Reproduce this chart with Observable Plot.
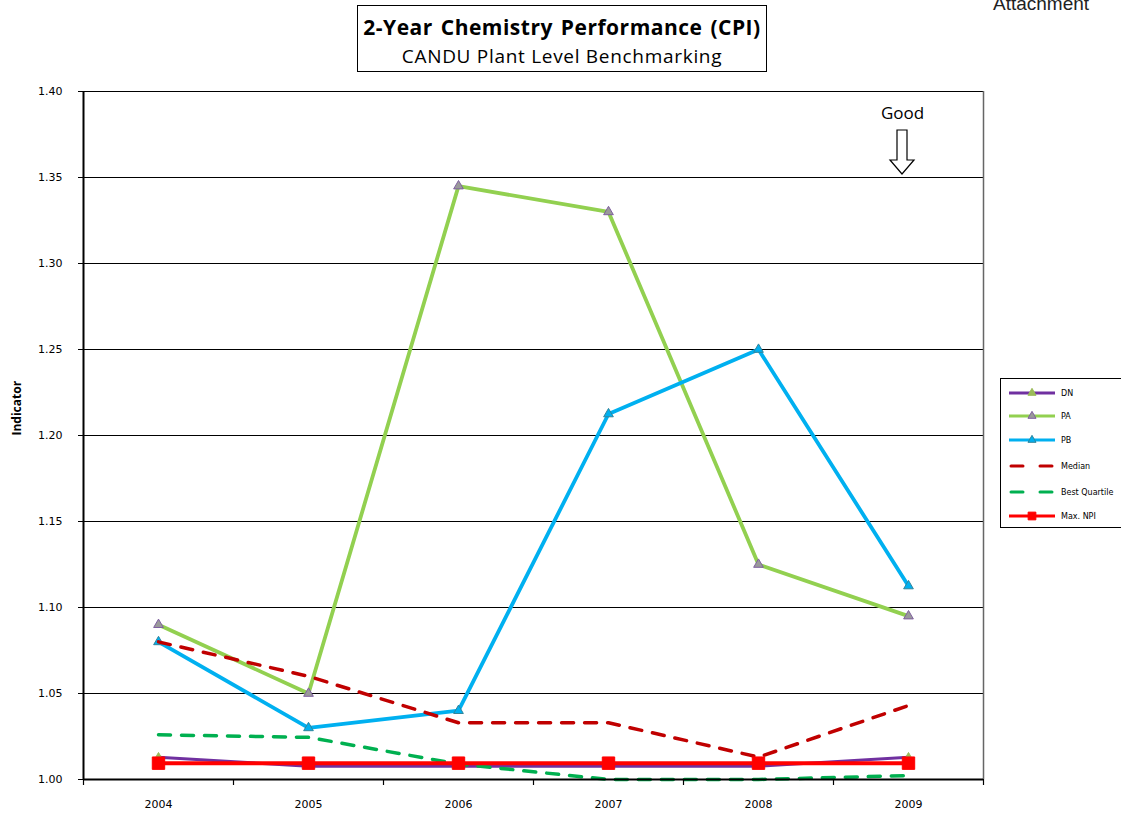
<!DOCTYPE html>
<html>
<head>
<meta charset="utf-8">
<script src="https://cdn.jsdelivr.net/npm/d3@7"></script>
<script src="https://cdn.jsdelivr.net/npm/@observablehq/plot@0.6"></script>
<style>
  html, body { margin: 0; padding: 0; background: #fff; overflow: hidden; }
  #wrap { position: relative; width: 1121px; height: 820px; overflow: hidden; }
  #chart { position: absolute; left: 0; top: 0; }
  #titlebox { position: absolute; left: 357px; top: 5px; width: 410px; height: 67px; border: 1px solid #000; background: #fff;
    text-align: center; font-family: "Open Sans", sans-serif; color: #000; box-sizing: border-box; white-space: nowrap; }
  #titlebox .t1 { font-weight: bold; font-size: 21px; line-height: 28px; margin-top: 7px; letter-spacing: 0.5px; word-spacing: 2px; }
  #titlebox .t2 { font-size: 19px; line-height: 26px; margin-top: 2px; letter-spacing: 0.7px; }
  #attach { position: absolute; left: 993px; top: -6px; font-family: "Liberation Sans", Arial, sans-serif; font-size: 19px; line-height: 20px; color: #222; }
  #legend { position: absolute; left: 1000px; top: 378px; width: 130px; height: 148px; border: 1px solid #000; background: #fff;
    font-family: "DejaVu Sans", sans-serif; font-size: 8px; color: #000; }
  #legend .item { position: absolute; left: 8px; height: 16px; display: flex; align-items: center; }
  #legend .item svg { display: block; margin-right: 4px; }
</style>
</head>
<body>
<div id="wrap">
  <div id="chart"></div>
  <div id="titlebox"><div class="t1">2-Year Chemistry Performance (CPI)</div><div class="t2">CANDU Plant Level Benchmarking</div></div>
  <div id="attach">Attachment</div>
  <div id="legend"></div>
</div>
<script>
// ---- data ----
const years = [2004, 2005, 2006, 2007, 2008, 2009];
const seriesNames = ["DN", "PA", "PB", "Median", "Best Quartile", "Max. NPI"];
const dnValues = [1.013, 1.0077, 1.0077, 1.0077, 1.0077, 1.013];
const paValues = [1.09, 1.05, 1.345, 1.33, 1.125, 1.095];
const pbValues = [1.08, 1.03, 1.04, 1.2125, 1.25, 1.1125];
const medianValues = [1.08, 1.06, 1.033, 1.033, 1.013, 1.043];
const bestQuartileValues = [1.026, 1.0245, 1.009, 1.0, 1.0, 1.0023];
const maxNpiValues = [1.0095, 1.0095, 1.0095, 1.0095, 1.0095, 1.0095];
const yTicks = [1.00, 1.05, 1.10, 1.15, 1.20, 1.25, 1.30, 1.35, 1.40];
const yLabel = "Indicator";
const goodLabel = "Good";

// ---- styles ----
const styles = {
  "DN": {stroke: "#7030A0", width: 3, dash: null, symbol: "triangle", fill: "#9BBB59", markStroke: "#9BBB59", r: 3},
  "PA": {stroke: "#92D050", width: 3.8, dash: null, symbol: "triangle", fill: "#9A9A9A", markStroke: "#7F5FA0", r: 3.6},
  "PB": {stroke: "#00B0F0", width: 3.8, dash: null, symbol: "triangle", fill: "#00B0F0", markStroke: "#31859C", r: 3.6},
  "Median": {stroke: "#C00000", width: 3.5, dash: "12,11", symbol: null},
  "Best Quartile": {stroke: "#00B050", width: 3.5, dash: "12,11", symbol: null},
  "Max. NPI": {stroke: "#FF0000", width: 4, dash: null, symbol: "square", fill: "#FF0000", markStroke: "#FF0000", r: 7}
};
const valuesByName = {
  "DN": dnValues, "PA": paValues, "PB": pbValues,
  "Median": medianValues, "Best Quartile": bestQuartileValues, "Max. NPI": maxNpiValues
};
const rows = [];
for (const name of seriesNames) {
  valuesByName[name].forEach((v, i) => rows.push({name, year: years[i], value: v}));
}
const bounds = [years[0] - 0.5, ...years.map(y => y + 0.5)];

// hollow "Good" arrow anchored to the chart scales
function goodArrow(index, scales) {
  const cx = scales.x(years[years.length - 1]) - 6;
  const top = scales.y(1.4) + 39;
  const tip = scales.y(1.35) - 3;
  const headTop = tip - 14;
  const pts = [[cx - 5, top], [cx + 5, top], [cx + 5, headTop], [cx + 12, headTop], [cx, tip],
               [cx - 12, headTop], [cx - 5, headTop]];
  const ns = "http://www.w3.org/2000/svg";
  const p = document.createElementNS(ns, "path");
  p.setAttribute("d", "M" + pts.map(q => q.join(",")).join("L") + "Z");
  p.setAttribute("fill", "#fff");
  p.setAttribute("stroke", "#000");
  p.setAttribute("stroke-width", "1.2");
  const g = document.createElementNS(ns, "g");
  g.appendChild(p);
  return g;
}

const marks = [
  Plot.gridY(yTicks, {stroke: "#000", strokeOpacity: 1, strokeWidth: 1}),
  Plot.ruleX([bounds[bounds.length - 1]], {stroke: "#666", strokeWidth: 1.5})
];
for (const name of seriesNames) {
  const s = styles[name];
  const d = rows.filter(r => r.name === name);
  marks.push(Plot.line(d, {x: "year", y: "value", stroke: s.stroke, strokeWidth: s.width,
    strokeDasharray: s.dash || undefined, strokeLinecap: s.dash ? "round" : "butt", strokeLinejoin: "round"}));
  if (s.symbol) {
    marks.push(Plot.dot(d, {x: "year", y: "value", symbol: s.symbol, r: s.r, fill: s.fill, stroke: s.markStroke, strokeWidth: 1}));
  }
}
marks.push(
  Plot.ruleX([bounds[0]], {stroke: "#000", strokeWidth: 2}),
  Plot.ruleY([yTicks[0]], {stroke: "#000", strokeWidth: 2}),
  Plot.axisY({ticks: yTicks, tickFormat: d3.format(".2f"), tickSize: 5, tickPadding: 16, label: null,
    fontSize: 11, fontFamily: "DejaVu Sans", stroke: "#000", fill: "#000"}),
  Plot.axisX({ticks: bounds, tickFormat: () => "", tickSize: 6, label: null, stroke: "#000", strokeWidth: 1.2}),
  Plot.axisX({ticks: years, tickFormat: d => String(d), tickSize: 0, tickPadding: 21, label: null,
    fontSize: 11, fontFamily: "DejaVu Sans", fill: "#000"}),
  Plot.text([yLabel], {frameAnchor: "left", dx: -66, rotate: -90, text: d => d, fontSize: 12,
    fontWeight: "bold", fontFamily: "Open Sans", fill: "#000"}),
  Plot.text([goodLabel], {x: () => years[years.length - 1], y: () => 1.387, text: d => d, dx: -6,
    fontSize: 17, fontFamily: "Open Sans", fill: "#000"}),
  goodArrow
);

const chart = Plot.plot({
  width: 1121,
  height: 820,
  marginLeft: 83,
  marginRight: 138,
  marginTop: 91,
  marginBottom: 41,
  style: {background: "transparent", fontFamily: "DejaVu Sans"},
  x: {type: "linear", domain: [bounds[0], bounds[bounds.length - 1]]},
  y: {domain: [yTicks[0], yTicks[yTicks.length - 1]]},
  marks
});
document.getElementById("chart").appendChild(chart);

// ---- legend ----
const legend = document.getElementById("legend");
const itemTops = [6, 29, 53, 79, 105, 129];
seriesNames.forEach((name, i) => {
  const s = styles[name];
  const item = document.createElement("div");
  item.className = "item";
  item.style.top = itemTops[i] + "px";
  let svg = `<svg width="48" height="12" viewBox="0 0 48 12">`;
  if (s.dash) {
    svg += `<line x1="2" y1="6" x2="46" y2="6" stroke="${s.stroke}" stroke-width="3" stroke-dasharray="12,17" stroke-linecap="round"/>`;
  } else {
    svg += `<line x1="0" y1="6" x2="46" y2="6" stroke="${s.stroke}" stroke-width="3"/>`;
  }
  const sym = s.symbol === "triangle" ? d3.symbolTriangle : s.symbol === "square" ? d3.symbolSquare : null;
  if (sym) {
    const size = s.symbol === "square" ? 60 : 28;
    const p = d3.symbol(sym, size)();
    svg += `<path d="${p}" transform="translate(23,6)" fill="${s.fill}" stroke="${s.symbol === "square" ? s.fill : (name === "DN" ? "#9BBB59" : s.markStroke)}" stroke-width="1"/>`;
  }
  svg += `</svg>`;
  item.innerHTML = svg + `<span>${name}</span>`;
  legend.appendChild(item);
});
</script>
</body>
</html>
